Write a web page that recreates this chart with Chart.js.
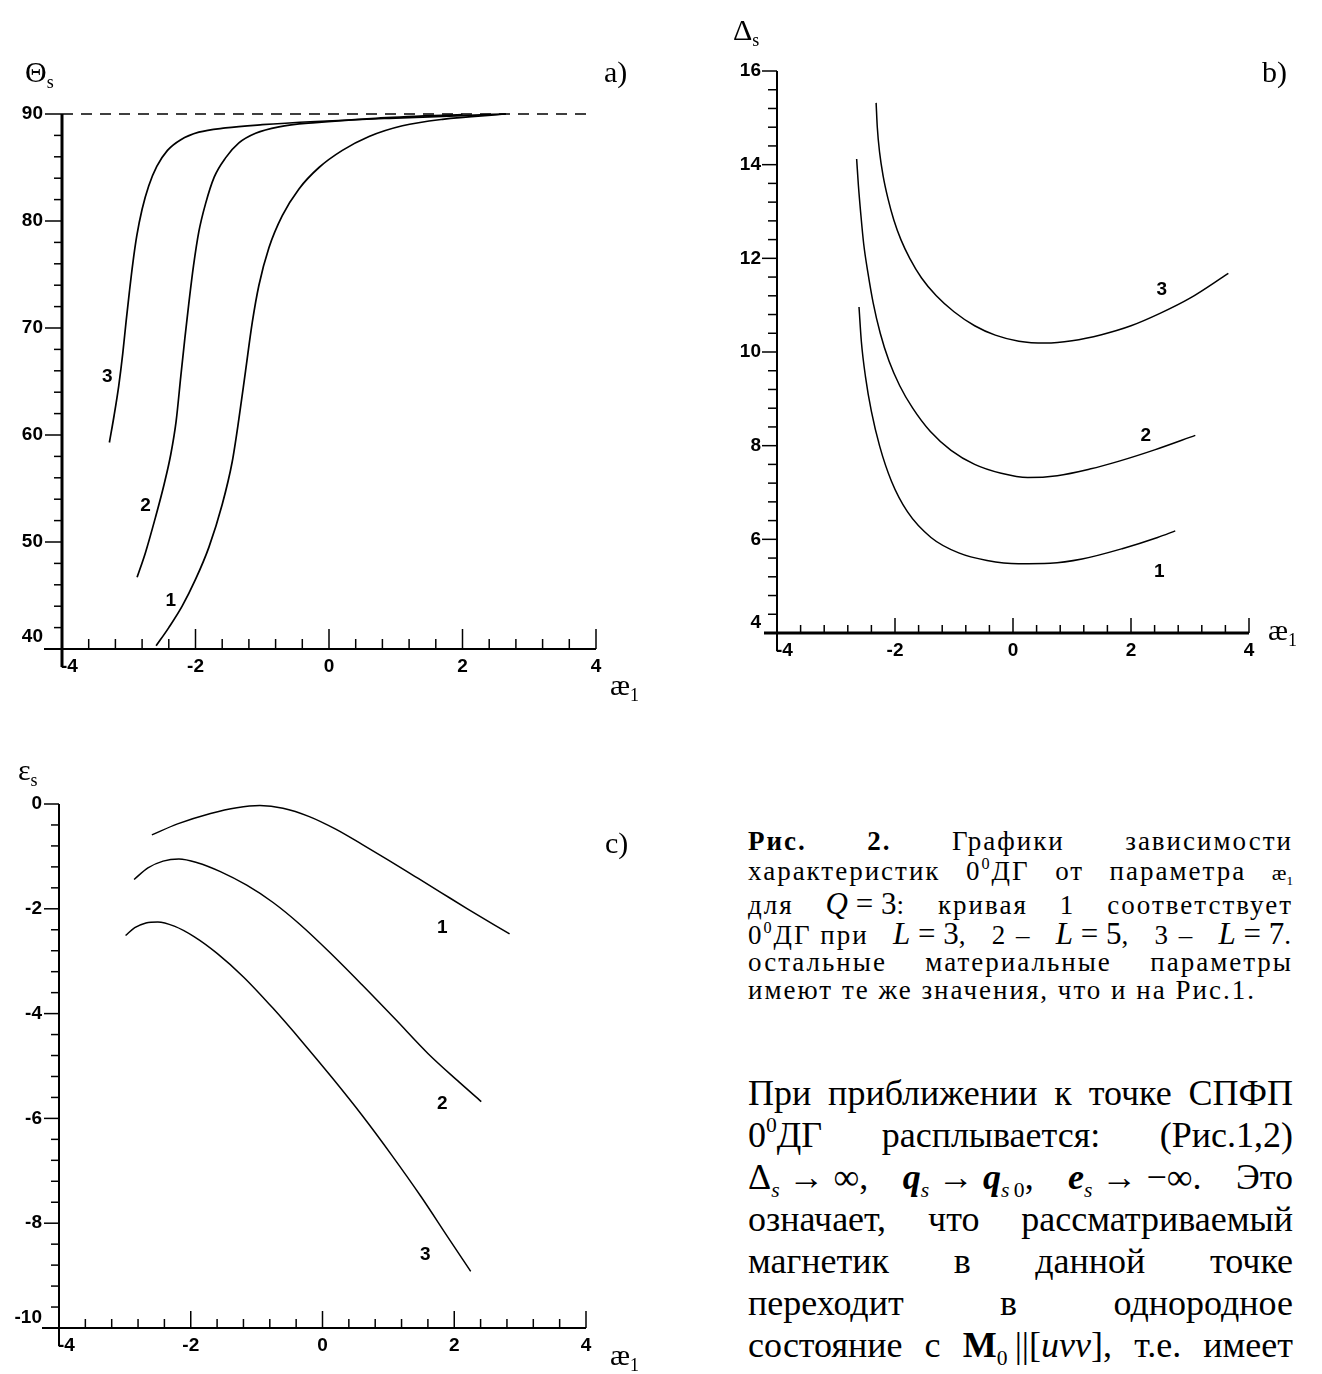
<!DOCTYPE html>
<html lang="ru">
<head>
<meta charset="utf-8">
<title>Рис. 2</title>
<script src="https://cdn.jsdelivr.net/npm/chart.js@4.4.1/dist/chart.umd.min.js"></script>
<style>
  html, body { margin: 0; padding: 0; background: #fff; }
  body { position: relative; width: 1322px; height: 1374px; overflow: hidden;
         font-family: "Liberation Serif", "Times New Roman", serif; color: #000; }
  canvas { position: absolute; }
  .t { position: absolute; white-space: nowrap; line-height: 1; font-size: 30px; }
  .t sub { font-size: 18px; vertical-align: -6px; }
  .row { position: absolute; left: 748px; width: 545px; display: flex;
         justify-content: space-between; align-items: baseline; white-space: nowrap; line-height: 1; }
  .cap { font-size: 27px; letter-spacing: 2px; }
  .par { font-size: 36px; }
  .row sup { font-size: 0.6em; vertical-align: 0.7em; line-height: 0; }
  .row sub { font-size: 0.6em; vertical-align: -0.35em; line-height: 0; }
  .m { font-size: 31px; letter-spacing: 0; }
  .left { justify-content: flex-start; }
</style>
</head>
<body>
<canvas id="chartA" width="660" height="620" style="left:0;top:80px"></canvas>
<canvas id="chartB" width="622" height="640" style="left:700px;top:40px"></canvas>
<canvas id="chartC" width="660" height="604" style="left:0;top:770px"></canvas>

<div class="t" style="left:25px;top:57px">Θ<sub>s</sub></div>
<div class="t" style="left:604px;top:57px">a)</div>
<div class="t" style="left:610px;top:670px">æ<sub>1</sub></div>

<div class="t" style="left:733px;top:15px">Δ<sub>s</sub></div>
<div class="t" style="left:1262px;top:57px">b)</div>
<div class="t" style="left:1268px;top:615px">æ<sub>1</sub></div>

<div class="t" style="left:18px;top:755px">ε<sub>s</sub></div>
<div class="t" style="left:605px;top:828px">c)</div>
<div class="t" style="left:610px;top:1340px">æ<sub>1</sub></div>

<div class="row cap" style="top:828px"><b>Рис.</b><b>2.</b><span>Графики</span><span>зависимости</span></div>
<div class="row cap" style="top:858px"><span>характеристик</span><span>0<sup>0</sup>ДГ</span><span>от</span><span>параметра</span><span style="font-size:22px;letter-spacing:0">æ<sub>1</sub></span></div>
<div class="row cap" style="top:888px"><span>для</span><span><span class="m"><i>Q</i> = 3</span>:</span><span>кривая</span><span>1</span><span>соответствует</span></div>
<div class="row cap" style="top:918px"><span>0<sup>0</sup>ДГ при</span><span><span class="m"><i>L</i> = 3</span>,</span><span>2 –</span><span><span class="m"><i>L</i> = 5</span>,</span><span>3 –</span><span><span class="m"><i>L</i> = 7</span>.</span></div>
<div class="row cap" style="top:949px"><span>остальные</span><span>материальные</span><span>параметры</span></div>
<div class="row cap left" style="top:977px"><span>имеют те же значения, что и на Рис.1.</span></div>

<div class="row par" style="top:1075px"><span>При</span><span>приближении</span><span>к</span><span>точке</span><span>СПФП</span></div>
<div class="row par" style="top:1117px"><span>0<sup>0</sup>ДГ</span><span>расплывается:</span><span>(Рис.1,2)</span></div>
<div class="row par" style="top:1159px"><span>Δ<sub><i>s</i></sub> → ∞,</span><span><b><i>q</i></b><sub><i>s</i></sub> → <b><i>q</i></b><sub><i>s</i>&#8201;0</sub>,</span><span><b><i>e</i></b><sub><i>s</i></sub> → −∞.</span><span>Это</span></div>
<div class="row par" style="top:1201px"><span>означает,</span><span>что</span><span>рассматриваемый</span></div>
<div class="row par" style="top:1243px"><span>магнетик</span><span>в</span><span>данной</span><span>точке</span></div>
<div class="row par" style="top:1285px"><span>переходит</span><span>в</span><span>однородное</span></div>
<div class="row par" style="top:1327px"><span>состояние</span><span>с</span><span><b>M</b><sub>0</sub>&#8201;||[<i>uvv</i>],</span><span>т.е.</span><span>имеет</span></div>

<script>
// common x axis (æ1)
const kappaTicks = [-4, -2, 0, 2, 4];

// a) Θs vs æ1
const thetaTicks = [40, 50, 60, 70, 80, 90];
const theta1X = [-2.59, -2.40, -2.20, -2.00, -1.80, -1.60, -1.45, -1.35, -1.25, -1.15, -1.05, -0.90, -0.70, -0.45, -0.15, 0.20, 0.60, 1.10, 1.70, 2.65];
const theta1Y = [40.3, 42.0, 44.0, 46.5, 49.5, 53.5, 57.5, 61.5, 66.0, 70.5, 74.0, 77.5, 80.5, 83.0, 85.0, 86.6, 87.9, 88.9, 89.5, 90.0];
const theta2X = [-2.875, -2.75, -2.60, -2.47, -2.37, -2.29, -2.22, -2.16, -2.10, -2.03, -1.95, -1.85, -1.72, -1.55, -1.35, -1.10, -0.75, -0.20, 0.70, 2.00];
const theta2Y = [46.7, 49.0, 52.3, 55.4, 58.2, 61.3, 65.5, 69.0, 72.3, 75.8, 79.0, 81.6, 84.1, 85.9, 87.3, 88.2, 88.8, 89.2, 89.6, 89.95];
const theta3X = [-3.29, -3.22, -3.15, -3.09, -3.04, -2.99, -2.94, -2.88, -2.80, -2.70, -2.58, -2.42, -2.22, -1.95, -1.55, -1.00, -0.20, 0.90, 2.00, 2.65];
const theta3Y = [59.3, 61.8, 64.6, 67.6, 70.6, 73.4, 76.0, 78.6, 81.1, 83.3, 85.1, 86.6, 87.6, 88.3, 88.7, 89.0, 89.3, 89.6, 89.85, 90.0];
const thetaLimitX = [-4, 3.9];
const thetaLimitY = [90, 90];
const thetaNotes = [["3", -3.32, 65.4], ["2", -2.75, 53.4], ["1", -2.37, 44.5]];

// b) Δs vs æ1
const deltaTicks = [4, 6, 8, 10, 12, 14, 16];
const delta1X = [-2.61, -2.57, -2.50, -2.40, -2.26, -2.06, -1.79, -1.39, -0.92, -0.44, 0.09, 0.63, 1.17, 1.85, 2.45, 2.75];
const delta1Y = [10.96, 10.22, 9.47, 8.73, 7.99, 7.24, 6.59, 6.04, 5.71, 5.55, 5.48, 5.49, 5.58, 5.80, 6.04, 6.18];
const delta2X = [-2.65, -2.62, -2.58, -2.53, -2.46, -2.37, -2.25, -2.10, -1.92, -1.70, -1.40, -1.05, -0.65, -0.20, 0.25, 0.75, 1.30, 1.80, 2.40, 3.09];
const delta2Y = [14.12, 13.55, 12.95, 12.30, 11.70, 11.05, 10.40, 9.80, 9.28, 8.80, 8.30, 7.90, 7.60, 7.41, 7.32, 7.36, 7.50, 7.67, 7.91, 8.22];
const delta3X = [-2.32, -2.30, -2.26, -2.20, -2.12, -2.02, -1.90, -1.75, -1.55, -1.30, -1.00, -0.65, -0.30, 0.10, 0.55, 1.00, 1.50, 2.00, 2.50, 3.00, 3.65];
const delta3Y = [15.32, 14.80, 14.25, 13.75, 13.28, 12.82, 12.40, 12.00, 11.58, 11.20, 10.86, 10.56, 10.36, 10.23, 10.19, 10.24, 10.37, 10.56, 10.83, 11.15, 11.68];
const deltaNotes = [["3", 2.52, 11.33], ["2", 2.25, 8.22], ["1", 2.48, 5.30]];

// c) εs vs æ1
const epsTicks = [-10, -8, -6, -4, -2, 0];
const eps1X = [-2.59, -2.20, -1.70, -1.30, -0.95, -0.60, -0.20, 0.20, 0.60, 1.00, 1.40, 1.80, 2.20, 2.60, 2.84];
const eps1Y = [-0.59, -0.38, -0.18, -0.07, -0.03, -0.08, -0.24, -0.48, -0.77, -1.07, -1.38, -1.69, -2.00, -2.30, -2.48];
const eps2X = [-2.86, -2.65, -2.42, -2.18, -1.90, -1.55, -1.15, -0.75, -0.35, 0.10, 0.60, 1.10, 1.60, 2.05, 2.41];
const eps2Y = [-1.44, -1.22, -1.09, -1.05, -1.12, -1.29, -1.55, -1.88, -2.29, -2.82, -3.45, -4.10, -4.76, -5.28, -5.68];
const eps3X = [-2.99, -2.85, -2.68, -2.50, -2.25, -1.95, -1.60, -1.20, -0.75, -0.30, 0.15, 0.60, 1.05, 1.50, 1.90, 2.25];
const eps3Y = [-2.51, -2.36, -2.27, -2.25, -2.33, -2.53, -2.85, -3.30, -3.90, -4.55, -5.23, -5.94, -6.70, -7.50, -8.26, -8.92];
const epsNotes = [["1", 1.82, -2.37], ["2", 1.82, -5.72], ["3", 1.56, -8.61]];

const pts = (xs, ys) => xs.map((x, i) => ({ x: x, y: ys[i] }));

function line(ctx, x1, y1, x2, y2) {
  ctx.beginPath();
  ctx.moveTo(x1, y1);
  ctx.lineTo(x2, y2);
  ctx.stroke();
}

// axes in the old plotting-package style: x ticks point up, y ticks point left
function axesPlugin(o) {
  return {
    id: "axes",
    afterDraw(chart) {
      const ctx = chart.ctx;
      const x = chart.scales.x, y = chart.scales.y;
      const x0 = x.getPixelForValue(-4), x1 = x.getPixelForValue(4);
      const yb = y.getPixelForValue(o.yMin), yt = y.getPixelForValue(o.yMax);
      ctx.save();
      ctx.strokeStyle = "#000";
      ctx.fillStyle = "#000";
      ctx.lineCap = "butt";

      ctx.lineWidth = o.yAxisW;
      line(ctx, x0, yt, x0, yb + 18);
      ctx.lineWidth = o.xAxisW;
      line(ctx, x0 - o.xLead, yb, x1, yb);

      ctx.lineWidth = 1.5;
      for (let k = 1; k <= 20; k++) {
        const px = x.getPixelForValue(-4 + k * 0.4);
        line(ctx, px, yb, px, yb - (k % 5 === 0 ? o.xMajor : o.xMinor));
      }
      const nMinor = Math.round((o.yMax - o.yMin) / o.yStep);
      for (let k = 1; k <= nMinor; k++) {
        const py = y.getPixelForValue(o.yMin + k * o.yStep);
        line(ctx, x0, py, x0 - (k % o.yEvery === 0 ? o.yMajor : o.yMinor), py);
      }

      ctx.font = 'bold 19px "Liberation Sans", Arial, sans-serif';
      ctx.textBaseline = "middle";
      kappaTicks.forEach(v => {
        const px = x.getPixelForValue(v);
        if (v === -4) {
          ctx.textAlign = "left";
          ctx.fillText("-4", px - 1, yb + 18);
        } else {
          ctx.textAlign = "center";
          ctx.fillText(String(v), px, yb + 18);
        }
      });
      ctx.textAlign = "right";
      o.yTicks.forEach(v => {
        const py = y.getPixelForValue(v) - (v === o.yMin ? o.lowLift : 0);
        ctx.fillText(String(v), x0 - o.yLabelDx, py);
      });

      ctx.textAlign = "center";
      o.notes.forEach(n => {
        ctx.fillText(n[0], x.getPixelForValue(n[1]), y.getPixelForValue(n[2]));
      });
      ctx.restore();
    }
  };
}

function panel(id, o) {
  const cv = document.getElementById(id);
  const W = cv.width, H = cv.height;
  return new Chart(cv, {
    type: "scatter",
    data: {
      datasets: o.series.map(s => ({
        data: pts(s[0], s[1]),
        showLine: true,
        borderColor: "#000",
        borderWidth: s[2] ? 1.4 : o.lineW,
        borderDash: s[2] || [],
        pointRadius: 0,
        cubicInterpolationMode: "monotone",
        clip: 6
      }))
    },
    options: {
      responsive: false,
      animation: false,
      events: [],
      layout: { padding: { left: 0, top: o.area.top, right: W - o.area.right, bottom: 0 } },
      plugins: { legend: { display: false }, tooltip: { enabled: false } },
      scales: {
        x: {
          type: "linear", min: -4, max: 4,
          grid: { display: false, drawTicks: false },
          border: { display: false },
          ticks: { display: false },
          afterFit: s => { s.height = H - o.area.bottom; }
        },
        y: {
          type: "linear", min: o.yMin, max: o.yMax,
          grid: { display: false, drawTicks: false },
          border: { display: false },
          ticks: { display: false },
          afterFit: s => { s.width = o.area.left; }
        }
      }
    },
    plugins: [axesPlugin(o)]
  });
}

panel("chartA", {
  area: { left: 62, top: 34, right: 596, bottom: 569 },
  yMin: 40, yMax: 90, yStep: 2, yEvery: 5, yTicks: thetaTicks,
  yAxisW: 3, xAxisW: 2, xLead: 18,
  xMajor: 20, xMinor: 10, yMajor: 17, yMinor: 8,
  yLabelDx: 19, lowLift: 12, lineW: 1.7,
  notes: thetaNotes,
  series: [
    [theta1X, theta1Y],
    [theta2X, theta2Y],
    [theta3X, theta3Y],
    [thetaLimitX, thetaLimitY, [11, 8]]
  ]
});

panel("chartB", {
  area: { left: 77, top: 31, right: 549, bottom: 593 },
  yMin: 4, yMax: 16, yStep: 0.4, yEvery: 5, yTicks: deltaTicks,
  yAxisW: 2, xAxisW: 3, xLead: 13,
  xMajor: 15, xMinor: 8, yMajor: 15, yMinor: 9,
  yLabelDx: 16, lowLift: 10, lineW: 1.5,
  notes: deltaNotes,
  series: [
    [delta1X, delta1Y],
    [delta2X, delta2Y],
    [delta3X, delta3Y]
  ]
});

panel("chartC", {
  area: { left: 59, top: 34, right: 586, bottom: 558 },
  yMin: -10, yMax: 0, yStep: 0.4, yEvery: 5, yTicks: epsTicks,
  yAxisW: 2, xAxisW: 2, xLead: 17,
  xMajor: 17, xMinor: 9, yMajor: 15, yMinor: 8,
  yLabelDx: 17, lowLift: 10, lineW: 1.5,
  notes: epsNotes,
  series: [
    [eps1X, eps1Y],
    [eps2X, eps2Y],
    [eps3X, eps3Y]
  ]
});
</script>
</body>
</html>
